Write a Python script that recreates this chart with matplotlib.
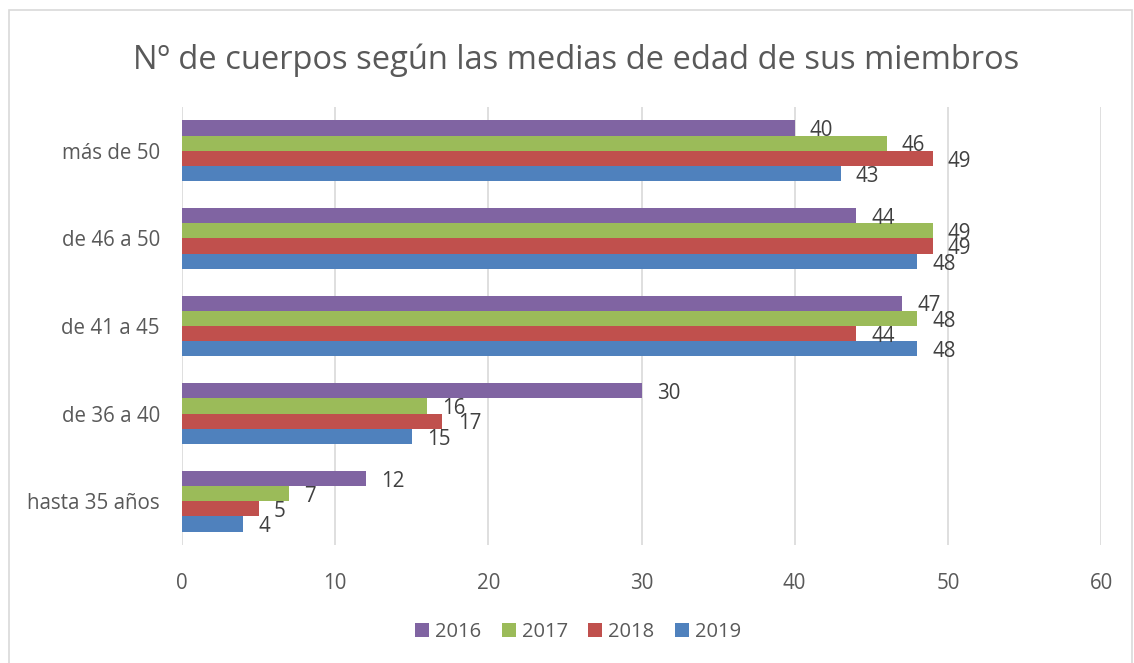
import matplotlib.pyplot as plt
import matplotlib.patches as mpatches
import numpy as np

plt.rcParams["font.family"] = ["Open Sans", "DejaVu Sans"]

categorias = ["hasta 35 años", "de 36 a 40", "de 41 a 45", "de 46 a 50", "más de 50"]
anios = ["2016", "2017", "2018", "2019"]
v2016 = [12, 30, 47, 44, 40]
v2017 = [7, 16, 48, 49, 46]
v2018 = [5, 17, 44, 49, 49]
v2019 = [4, 15, 48, 48, 43]
colores = ["#8064A2", "#9BBB59", "#C0504D", "#4F81BD"]

series = [v2016, v2017, v2018, v2019]

fig = plt.figure(figsize=(11.34, 6.63), dpi=100)
ax = fig.add_axes([0.1605, 0.178, 0.8104, 0.6606])

# marco gris alrededor del grafico
fig.patches.append(mpatches.Rectangle((0.008, -0.01), 0.99, 0.995, transform=fig.transFigure,
                                      fill=False, edgecolor="#D9D9D9", linewidth=1.2))

y = np.arange(len(categorias))
h = 0.174
for i, (vals, col, lab) in enumerate(zip(series, colores, anios)):
    pos = y + (1.5 - i) * h
    ax.barh(pos, vals, height=h, color=col, label=lab, zorder=3)
    for p, v in zip(pos, vals):
        ax.annotate(str(v), (v, p), xytext=(11, -2), textcoords="offset points",
                    ha="left", va="center", fontsize=14.8, color="#404040", zorder=4)

ax.set_xlim(0, 60)
ax.set_ylim(-0.5, 4.5)
ax.set_xticks(range(0, 61, 10))
ax.set_yticks(y)
ax.set_yticklabels(categorias)
ax.tick_params(length=0, labelsize=14.8, labelcolor="#595959")
ax.tick_params(axis="x", pad=20)
ax.tick_params(axis="y", pad=16)
ax.grid(axis="x", color="#D9D9D9", linewidth=1.2, zorder=0)
for s in ax.spines.values():
    s.set_visible(False)

fig.suptitle("Nº de cuerpos según las medias de edad de sus miembros", x=0.508, y=0.935,
             fontsize=23.5, color="#595959")

ax.legend(loc="center", bbox_to_anchor=(0.431, -0.199), ncol=4, frameon=False,
          fontsize=14.5, labelcolor="#595959", handlelength=0.7, handleheight=0.7,
          handletextpad=0.3, columnspacing=1.0)

fig.savefig("out.png", dpi=100)
